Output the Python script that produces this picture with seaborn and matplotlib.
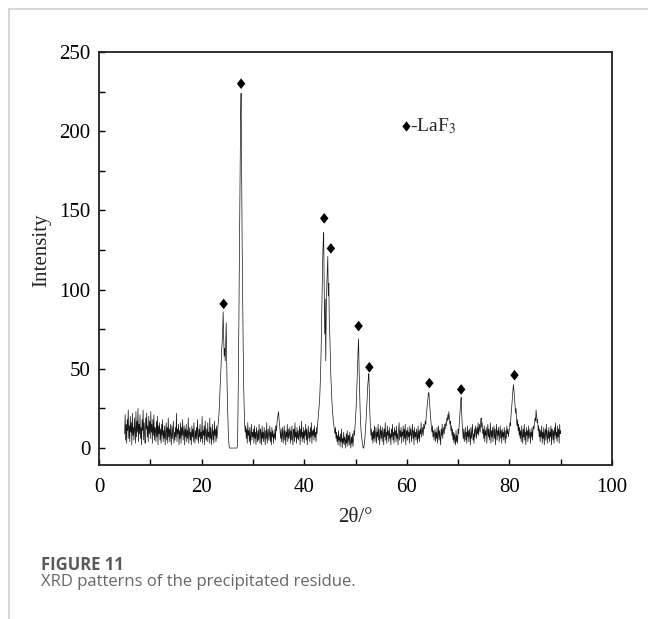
import numpy as np
import pandas as pd
import matplotlib
matplotlib.use("Agg")
import matplotlib.pyplot as plt
import seaborn as sns
from matplotlib.path import Path
from matplotlib.lines import Line2D

# ---------------- data (0.1 deg steps from 5.0 to 90.0) -------------
seg_05_23 = [9, 21, 5, 15, 3, 18, 11, 24, 6, 14,
             4, 20, 10, 16, 2, 22, 8, 13, 5, 19,
             12, 3, 23, 7, 17, 10, 25, 4, 15, 9,
             21, 6, 13, 2, 18, 11, 24, 5, 16, 8,
             3, 19, 12, 22, 7, 14, 4, 20, 9, 17,
             6, 23, 10, 15, 3, 18, 8, 21, 5, 13,
             11, 4, 17, 7, 20, 2, 14, 9, 16, 5,
             12, 3, 15, 8, 18, 4, 11, 6, 14, 2,
             10, 16, 5, 13, 3, 19, 7, 12, 4, 15,
             8, 2, 14, 6, 11, 17, 3, 10, 5, 13,
             7, 22, 4, 12, 9, 15, 2, 11, 6, 16,
             3, 13, 8, 18, 5, 10, 14, 2, 12, 7,
             15, 4, 11, 6, 19, 3, 9, 13, 5, 10,
             2, 14, 7, 12, 4, 16, 8, 3, 11, 6,
             13, 5, 18, 9, 3, 12, 7, 15, 4, 10,
             6, 20, 3, 11, 8, 14, 2, 17, 9, 5,
             12, 4, 16, 7, 10, 3, 19, 6, 13, 2,
             9, 15, 5, 11, 3, 17, 8, 12, 4, 14,
             6, 10, 14]
seg_23_28 = [18, 22, 30, 38, 45, 52, 62, 66, 74, 86,
             70, 58, 63, 55, 68, 79, 52, 35, 22, 10, 4,
             0, 0, 0, 0, 0, 0, 0, 0, 0, 0, 0, 0, 0, 0, 0, 0,
             2, 25, 55, 95, 135, 180, 210, 224, 172, 130, 95, 65, 40, 25, 15, 10]
seg_28_42 = [14, 6, 12, 3,
             16, 8, 11, 4, 13, 2, 9, 15, 5, 10,
             7, 12, 3, 14, 6, 10, 2, 13, 8, 4,
             11, 5, 15, 7, 3, 12, 9, 2, 14, 6,
             10, 4, 13, 8, 2, 11, 6, 16, 3, 9,
             12, 5, 8, 14, 4, 10, 2, 13, 7, 11,
             3, 9, 6, 12, 5, 14, 11, 16, 19, 21,
             23, 18, 15, 10, 6, 12, 4, 9, 13, 3,
             8, 14, 5, 11, 2, 10, 7, 15, 4, 12,
             6, 9, 13, 3, 11, 5, 14, 8, 2, 10,
             12, 4, 16, 7, 10, 3, 13, 6, 11, 5,
             9, 14, 2, 12, 7, 17, 4, 10, 6, 13,
             3, 11, 8, 15, 5, 12, 2, 9, 14, 6,
             10, 4, 13, 7, 16, 3, 11, 8, 12, 5,
             14, 7, 10, 4, 13, 9, 15]
seg_42_46 = [18, 22, 26, 30, 38, 48, 62, 80, 100, 118,
             130, 136, 100, 72, 94, 55, 85, 102, 112, 121,
             96, 104, 78, 70, 56, 45, 37, 30, 24, 20,
             16, 14, 11, 9, 13, 6, 10, 4]
seg_46_49 = [8, 2, 11, 5, 7,
             1, 9, 4, 12, 0, 6, 3, 10, 2, 7,
             5, 0, 9, 3, 11, 1, 6, 8, 2, 10,
             4, 0, 7, 3, 9, 1, 5, 11, 8, 13]
seg_50_53 = [18, 24, 32, 42, 52, 62, 69, 50, 36, 24,
             15, 10, 7, 4, 2, 0, 0, 2, 5, 9,
             14, 20, 27, 34, 40, 44, 47, 35, 22, 14,
             8, 12, 5, 10, 3]
seg_53_63 = [11, 6, 14, 4, 9,
             13, 3, 10, 7, 15, 5, 12, 2, 8, 14,
             6, 11, 4, 13, 9, 2, 12, 7, 16, 5,
             10, 3, 14, 8, 11, 4, 13, 6, 9, 2,
             12, 7, 15, 5, 10, 3, 13, 8, 11, 4,
             14, 6, 9, 2, 12, 16, 5, 11, 7, 13,
             3, 10, 8, 14, 4, 12, 6, 15, 2, 9,
             11, 5, 13, 7, 10, 3, 14, 8, 12, 4,
             9, 15, 6, 11, 2, 13, 7, 10, 5, 12,
             8, 3, 14, 6, 11, 4, 12, 9, 16, 7,
             10, 13, 8, 15, 12]
seg_63_65 = [14, 17, 15, 21, 24, 28, 31, 34, 35, 30,
             26, 21, 17, 13, 10, 14, 7, 11, 5, 9]
seg_65_67 = [12, 4, 10, 6, 13, 3, 9, 14, 5, 11, 7, 2, 12, 8, 15, 6, 10, 13, 9, 15]
seg_67_68 = [12, 16, 14, 19, 17, 21, 18, 23, 19, 15, 17, 11, 14, 8, 12]
seg_69_70 = [5, 10, 3, 9, 6, 2, 11, 4, 8, 3, 12, 9]
seg_70_71 = [14, 19, 24, 29, 32, 22, 15, 10, 6, 12, 4, 9]
seg_71_79 = [13, 5, 10, 3, 14, 7,
             11, 4, 12, 8, 2, 13, 6, 10, 15, 5,
             9, 3, 12, 7, 14, 11, 6, 13, 9, 16,
             8, 12, 15, 10, 17, 19, 13, 16, 9, 12,
             6, 14, 4, 11, 8, 13, 3, 10, 15, 7,
             12, 5, 9, 16, 3, 11, 7, 13, 4, 10,
             14, 6, 12, 2, 10, 15, 5, 11, 8, 13,
             4, 9, 14, 6, 11, 3, 12, 7, 10, 5,
             13, 8, 3, 11, 6, 14, 9, 12, 7, 10]
seg_80_81 = [12, 16, 14, 20, 24, 28, 33, 37, 40, 36,
             31, 27, 22, 25, 17, 14, 18, 11, 15, 8]
seg_82_84 = [13, 6, 11, 4, 14, 9, 3, 12, 7, 15, 5, 10, 2, 13,
             8, 11, 4, 14, 6, 9, 12, 3, 10, 7, 13, 5, 11, 14]
seg_84_85 = [12, 16, 19, 17, 24, 20, 16, 18, 11, 14, 7, 12]
seg_86_90 = [4, 11, 7, 14, 3, 10, 6, 13, 2, 9,
             12, 5, 15, 8, 3, 11, 6, 13, 4, 10,
             7, 14, 2, 12, 9, 5, 11, 3, 13, 8,
             16, 6, 10, 4, 14, 7, 12, 3, 15, 9,
             11]

start_angle = 5.0
step_angle = 0.1

# LaF3 peak markers
mark_x = [24.3, 27.7, 43.9, 45.2, 50.6, 52.7, 64.4, 70.6, 81.0]
mark_y = [91, 230, 145, 126, 77, 51, 41, 37, 46]

x_ticks = [0, 20, 40, 60, 80, 100]
y_ticks = [0, 50, 100, 150, 200, 250]

intensity = np.array(seg_05_23 + seg_23_28 + seg_28_42 + seg_42_46 + seg_46_49 +
                     seg_50_53 + seg_53_63 + seg_63_65 + seg_65_67 + seg_67_68 +
                     seg_69_70 + seg_70_71 + seg_71_79 + seg_80_81 + seg_82_84 +
                     seg_84_85 + seg_86_90, dtype=float)
two_theta = start_angle + step_angle * np.arange(len(intensity))
df = pd.DataFrame({"two_theta": two_theta, "intensity": intensity})
marks = pd.DataFrame({"x": mark_x, "y": mark_y})

# ---------------- style ----------------
sns.set_theme(style="ticks")
plt.rcParams["font.family"] = ["Liberation Serif", "DejaVu Serif"]
plt.rcParams["mathtext.fontset"] = "stix"

fig = plt.figure(figsize=(6.48, 6.19), dpi=100)
ax = fig.add_axes([99 / 648, 1 - 465 / 619, (612 - 99) / 648, (465 - 52) / 619])

sns.lineplot(data=df, x="two_theta", y="intensity", ax=ax, color="#151515",
             linewidth=0.5, estimator=None, sort=False)

diamond = Path([(0, 1), (0.8, 0), (0, -1), (-0.8, 0), (0, 1)],
               [Path.MOVETO, Path.LINETO, Path.LINETO, Path.LINETO, Path.CLOSEPOLY])
sns.scatterplot(data=marks, x="x", y="y", marker=diamond, s=58, color="black",
                edgecolor="none", linewidth=0, ax=ax, zorder=4)

# legend-like annotation
ax.scatter([59.8], [203.5], marker=diamond, s=55, color="black", linewidths=0, zorder=4)
ax.text(60.7, 203.5, r"-LaF$_3$", fontsize=14, va="center", ha="left")

ax.set_xlim(0, 100)
ax.set_ylim(-10.7, 250)
ax.set_xticks(x_ticks)
ax.set_xticks([10, 30, 50, 70, 90], minor=True)
ax.set_yticks(y_ticks)
ax.set_yticks([25, 75, 125, 175, 225], minor=True)
ax.tick_params(which="both", direction="in", length=4, width=1.0, color="black",
               top=False, right=False)
ax.tick_params(axis="both", which="major", labelsize=15, colors="black")
ax.tick_params(axis="x", pad=9)
ax.tick_params(axis="y", pad=6)
for sp in ax.spines.values():
    sp.set_visible(True)
    sp.set_linewidth(1.3)
    sp.set_color("#222222")

ax.set_xlabel("2θ/°", fontsize=15)
ax.set_ylabel("Intensity", fontsize=15, ha="center", va="center")
ax.xaxis.set_label_coords((355 - 99) / 513, -(518 - 465) / 413)
ax.yaxis.set_label_coords((42 - 99) / 513, (465 - 250) / 413)
ax.xaxis.label.set_va("center")

# page frame lines
fig.add_artist(Line2D([9 / 648, 1], [1 - 9 / 619, 1 - 9 / 619], color="#d0d0d0", lw=1.2))
fig.add_artist(Line2D([9 / 648, 9 / 648], [0, 1 - 9 / 619], color="#d0d0d0", lw=1.2))

# caption
fig.text(41 / 648, 1 - 565 / 619, "FIGURE 11", fontfamily="Open Sans", fontweight="bold",
         fontsize=12, color="#595959", va="center", ha="left")
fig.text(41 / 648, 1 - 582 / 619, "XRD patterns of the precipitated residue.",
         fontfamily="Open Sans", fontsize=12, color="#666666", va="center", ha="left")

fig.savefig("out.png", dpi=100)
